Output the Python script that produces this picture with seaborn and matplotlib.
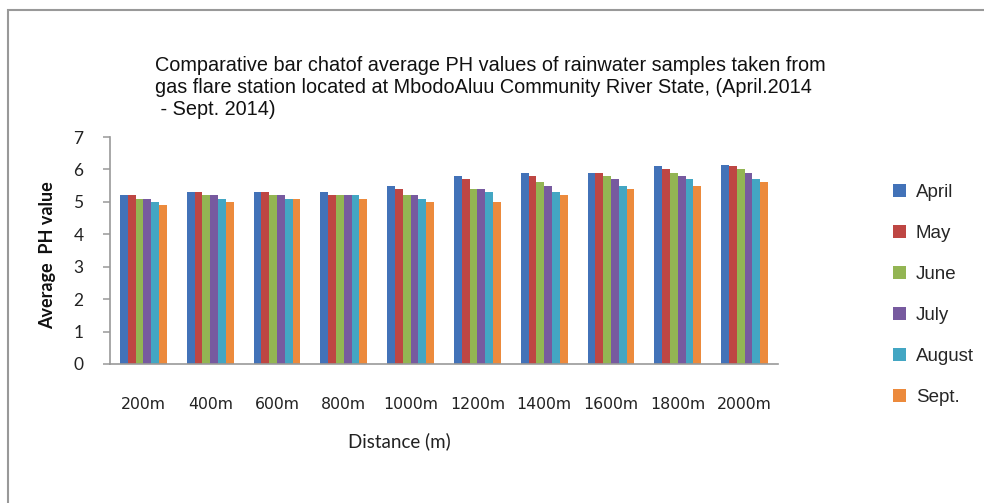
import pandas as pd
import matplotlib
matplotlib.use("Agg")
import matplotlib.pyplot as plt
import seaborn as sns
from matplotlib.patches import Rectangle

# ---------------------------
# Data
# ---------------------------
distances = ["200m", "400m", "600m", "800m", "1000m",
             "1200m", "1400m", "1600m", "1800m", "2000m"]
months = ["April", "May", "June", "July", "August", "Sept."]

april = [5.2, 5.3, 5.3, 5.3, 5.5, 5.8, 5.9, 5.9, 6.1, 6.15]
may = [5.2, 5.3, 5.3, 5.2, 5.4, 5.7, 5.8, 5.9, 6.0, 6.1]
june = [5.1, 5.2, 5.2, 5.2, 5.2, 5.4, 5.6, 5.8, 5.9, 6.0]
july = [5.1, 5.2, 5.2, 5.2, 5.2, 5.4, 5.5, 5.7, 5.8, 5.9]
august = [5.0, 5.1, 5.1, 5.2, 5.1, 5.3, 5.3, 5.5, 5.7, 5.7]
sept = [4.9, 5.0, 5.1, 5.1, 5.0, 5.0, 5.2, 5.4, 5.5, 5.6]

colors = ["#4272B8", "#BE4643", "#93B553", "#775A9F", "#43A6C3", "#EC8A3C"]

# long table for seaborn
series = [april, may, june, july, august, sept]
rows = []
for month, vals in zip(months, series):
    for d, v in zip(distances, vals):
        rows.append({"Distance": d, "Month": month, "PH": v})
df = pd.DataFrame(rows)

# ---------------------------
# Plot
# ---------------------------
sns.set_style("white")
plt.rcParams["font.family"] = ["Liberation Sans", "DejaVu Sans"]

W, H = 984, 503
fig = plt.figure(figsize=(W / 100, H / 100), dpi=100)
ax = fig.add_axes([110 / W, 1 - 364 / H, 668 / W, 227 / H])

sns.barplot(data=df, x="Distance", y="PH", hue="Month", order=distances,
            hue_order=months, palette=colors, width=0.7, gap=0,
            saturation=1, linewidth=0, ax=ax, legend=True)

ax.set_ylim(0, 7)
ax.set_yticks(range(0, 8))
ax.set_xlim(-0.5, len(distances) - 0.5)
ax.tick_params(axis="y", length=5, width=1.1, direction="out", color="#999999",
               left=True, pad=14)
ax.tick_params(axis="x", length=0, pad=24)
for lbl in ax.get_yticklabels():
    lbl.set_fontfamily(["Lato", "DejaVu Sans"])
    lbl.set_fontsize(12.5)
    lbl.set_color("#222222")
for lbl in ax.get_xticklabels():
    lbl.set_fontfamily(["DejaVu Sans"])
    lbl.set_fontsize(11.3)
    lbl.set_color("#222222")

for side in ["top", "right"]:
    ax.spines[side].set_visible(False)
for side in ["left", "bottom"]:
    ax.spines[side].set_color("#999999")
    ax.spines[side].set_linewidth(1.2)

ax.set_ylabel("Average  PH value", fontsize=13, family=["Lato", "DejaVu Sans"],
              color="#111111", fontweight="bold")
ax.yaxis.set_label_coords((48 - 110) / 668, (364 - 255) / 227)
ax.yaxis.label.set_va("center")
ax.set_xlabel("Distance (m)", fontsize=13.5, family=["Lato", "DejaVu Sans"],
              color="#222222")
ax.xaxis.set_label_coords((399 - 110) / 668, (364 - 441) / 227)
ax.xaxis.label.set_va("center")

# Legend off to the right
handles, labels = ax.get_legend_handles_labels()
ax.legend(handles, labels, loc="upper left",
          bbox_to_anchor=((885 - 110) / 668, (364 - 176) / 227),
          frameon=False, handlelength=0.7, handleheight=0.7,
          labelspacing=1.28, handletextpad=0.55, borderaxespad=0,
          prop={"family": ["Liberation Sans", "DejaVu Sans"], "size": 13.5})

# Title
fig.text(155 / W, 1 - 56 / H,
         "Comparative bar chatof average PH values of rainwater samples taken from\n"
         "gas flare station located at MbodoAluu Community River State, (April.2014\n"
         " - Sept. 2014)",
         ha="left", va="top", fontsize=14.3, linespacing=1.2, color="#111111")

# grey frame around the chart
fig.patches.append(Rectangle((8 / W, -0.05), 1.0, 1 - 10 / H + 0.05,
                             transform=fig.transFigure, fill=False,
                             edgecolor="#999999", linewidth=1.5))

fig.savefig("out.png", dpi=100)
